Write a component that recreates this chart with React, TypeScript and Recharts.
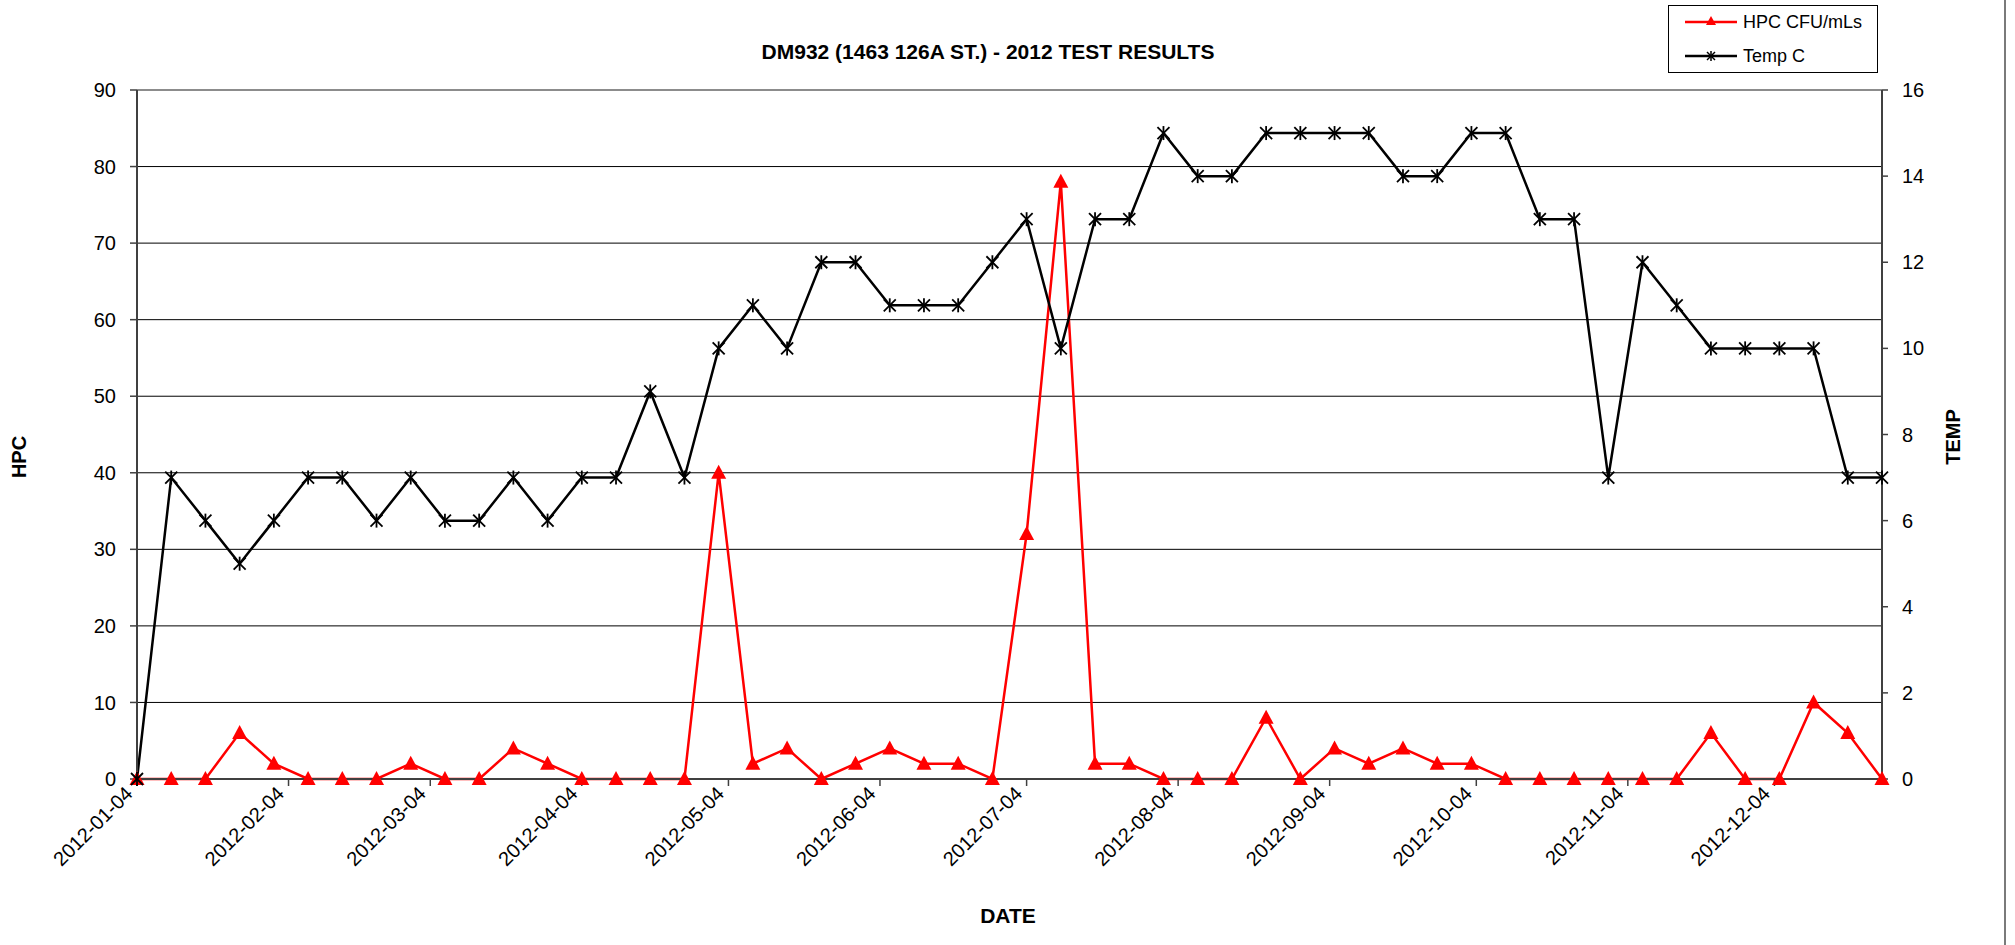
import React from "react";
import { LineChart, Line, XAxis, YAxis, CartesianGrid, ReferenceLine } from "recharts";

// weekly sample dates, 2012
const DATES = [
  "2012-01-04", "2012-01-11", "2012-01-18", "2012-01-25",
  "2012-02-01", "2012-02-08", "2012-02-15", "2012-02-22", "2012-02-29",
  "2012-03-07", "2012-03-14", "2012-03-21", "2012-03-28",
  "2012-04-04", "2012-04-11", "2012-04-18", "2012-04-25",
  "2012-05-02", "2012-05-09", "2012-05-16", "2012-05-23", "2012-05-30",
  "2012-06-06", "2012-06-13", "2012-06-20", "2012-06-27",
  "2012-07-04", "2012-07-11", "2012-07-18", "2012-07-25",
  "2012-08-01", "2012-08-08", "2012-08-15", "2012-08-22", "2012-08-29",
  "2012-09-05", "2012-09-12", "2012-09-19", "2012-09-26",
  "2012-10-03", "2012-10-10", "2012-10-17", "2012-10-24", "2012-10-31",
  "2012-11-07", "2012-11-14", "2012-11-21", "2012-11-28",
  "2012-12-05", "2012-12-12", "2012-12-19", "2012-12-26",
];

const HPC = [
  0, 0, 0, 6, 2, 0, 0, 0, 2, 0,
  0, 4, 2, 0, 0, 0, 0, 40, 2, 4,
  0, 2, 4, 2, 2, 0, 32, 78, 2, 2,
  0, 0, 0, 8, 0, 4, 2, 4, 2, 2,
  0, 0, 0, 0, 0, 0, 6, 0, 0, 10,
  6, 0,
];

const TEMP = [
  0, 7, 6, 5, 6, 7, 7, 6, 7, 6,
  6, 7, 6, 7, 7, 9, 7, 10, 11, 10,
  12, 12, 11, 11, 11, 12, 13, 10, 13, 13,
  15, 14, 14, 15, 15, 15, 15, 14, 14, 15,
  15, 13, 13, 7, 12, 11, 10, 10, 10, 10,
  7, 7,
];

const DATE_TICKS = [
  "2012-01-04", "2012-02-04", "2012-03-04", "2012-04-04", "2012-05-04", "2012-06-04",
  "2012-07-04", "2012-08-04", "2012-09-04", "2012-10-04", "2012-11-04", "2012-12-04",
];
const HPC_TICKS = [0, 10, 20, 30, 40, 50, 60, 70, 80, 90];
const TEMP_TICKS = [0, 2, 4, 6, 8, 10, 12, 14, 16];

const FONT = '"Liberation Sans", Arial, sans-serif';
const AXIS = "#404040";

const rows = DATES.map((d, i) => ({ t: Date.parse(d), hpc: HPC[i], temp: TEMP[i] }));

function fmtDate(v: number) {
  return new Date(v).toISOString().slice(0, 10);
}

function DateTick({ x, y, payload }: any) {
  const ax = x - 8;
  const ay = y - 2;
  return (
    <text
      x={ax} y={ay} transform={`rotate(-45 ${ax} ${ay})`}
      textAnchor="end" dominantBaseline="central"
      fontSize={20} fontFamily={FONT} fill="#000"
    >
      {fmtDate(payload.value)}
    </text>
  );
}

function Triangle({ cx, cy, index }: any) {
  if (cx == null || cy == null) return <g key={`tri-${index}`} />;
  return (
    <path
      key={`tri-${index}`}
      d={`M${cx},${cy - 8} L${cx + 7.5},${cy + 6} L${cx - 7.5},${cy + 6} Z`}
      fill="#ff0000"
    />
  );
}

function Star({ cx, cy, index }: any) {
  if (cx == null || cy == null) return <g key={`star-${index}`} />;
  return (
    <g key={`star-${index}`} stroke="#000" strokeWidth={1.8}>
      <line x1={cx - 6} y1={cy - 6} x2={cx + 6} y2={cy + 6} />
      <line x1={cx + 6} y1={cy - 6} x2={cx - 6} y2={cy + 6} />
      <line x1={cx} y1={cy - 7} x2={cx} y2={cy + 7} />
    </g>
  );
}

export default function App() {
  return (
    <div style={{ position: "absolute", left: 0, top: 0, width: 2015, height: 945, background: "#fff", fontFamily: FONT }}>
      <LineChart width={2015} height={945} data={rows} margin={{ top: 90, right: 33, bottom: 46, left: 37 }}>
        <CartesianGrid yAxisId="hpc" vertical={false} stroke="#000" strokeWidth={1} />
        <XAxis
          type="number" dataKey="t"
          domain={[Date.parse(DATES[0]), Date.parse(DATES[DATES.length - 1])]}
          ticks={DATE_TICKS.map((d) => Date.parse(d))}
          interval={0} height={120}
          tick={<DateTick />}
          tickSize={7} tickMargin={6}
          axisLine={{ stroke: AXIS, strokeWidth: 2 }}
          tickLine={{ stroke: AXIS, strokeWidth: 1.5 }}
        />
        <YAxis
          yAxisId="hpc" orientation="left" width={100}
          domain={[0, 90]} ticks={HPC_TICKS} interval={0}
          tick={{ fill: "#000", fontSize: 20, fontFamily: FONT }}
          tickSize={7} tickMargin={14}
          axisLine={{ stroke: AXIS, strokeWidth: 2 }}
          tickLine={{ stroke: AXIS, strokeWidth: 1.5 }}
        />
        <YAxis
          yAxisId="temp" orientation="right" width={100}
          domain={[0, 16]} ticks={TEMP_TICKS} interval={0}
          tick={{ fill: "#000", fontSize: 20, fontFamily: FONT }}
          tickSize={6} tickMargin={14}
          axisLine={{ stroke: AXIS, strokeWidth: 2 }}
          tickLine={{ stroke: AXIS, strokeWidth: 1.5 }}
        />
        <ReferenceLine yAxisId="hpc" y={90} stroke="#8c8c8c" strokeWidth={2} />
        <Line
          yAxisId="hpc" dataKey="hpc" type="linear"
          stroke="#ff0000" strokeWidth={2.5}
          dot={(p: any) => <Triangle {...p} key={`tri-${p.index}`} />}
          activeDot={false} isAnimationActive={false}
        />
        <Line
          yAxisId="temp" dataKey="temp" type="linear"
          stroke="#000" strokeWidth={2.5}
          dot={(p: any) => <Star {...p} key={`star-${p.index}`} />}
          activeDot={false} isAnimationActive={false}
        />
      </LineChart>

      {/* titles */}
      <svg width={2015} height={945} style={{ position: "absolute", left: 0, top: 0, pointerEvents: "none" }}>
        <text x={988} y={51} textAnchor="middle" dominantBaseline="central" fontSize={21} fontWeight="bold" fontFamily={FONT}>
          DM932 (1463 126A ST.) - 2012 TEST RESULTS
        </text>
        <text x={1008} y={915} textAnchor="middle" dominantBaseline="central" fontSize={21} fontWeight="bold" fontFamily={FONT}>
          DATE
        </text>
        <text x={19} y={457} transform="rotate(-90 19 457)" textAnchor="middle" dominantBaseline="central" fontSize={20} fontWeight="bold" fontFamily={FONT}>
          HPC
        </text>
        <text x={1953} y={437} transform="rotate(-90 1953 437)" textAnchor="middle" dominantBaseline="central" fontSize={20} fontWeight="bold" fontFamily={FONT}>
          TEMP
        </text>
        <line x1={2005} y1={0} x2={2005} y2={945} stroke="#7a7a7a" strokeWidth={2} />

        {/* legend */}
        <rect x={1668.5} y={5.5} width={209} height={67} fill="#fff" stroke="#000" strokeWidth={1} />
        <line x1={1685} y1={22} x2={1737} y2={22} stroke="#ff0000" strokeWidth={2.5} />
        <path d="M1711,16 L1716,25 L1706,25 Z" fill="#ff0000" />
        <text x={1743} y={22} dominantBaseline="central" fontSize={18} fontFamily={FONT}>HPC CFU/mLs</text>
        <line x1={1685} y1={56} x2={1737} y2={56} stroke="#000" strokeWidth={2.5} />
        <g stroke="#000" strokeWidth={1.5}>
          <line x1={1707} y1={52} x2={1715} y2={60} />
          <line x1={1715} y1={52} x2={1707} y2={60} />
          <line x1={1711} y1={51} x2={1711} y2={61} />
        </g>
        <text x={1743} y={56} dominantBaseline="central" fontSize={18} fontFamily={FONT}>Temp C</text>
      </svg>
    </div>
  );
}
